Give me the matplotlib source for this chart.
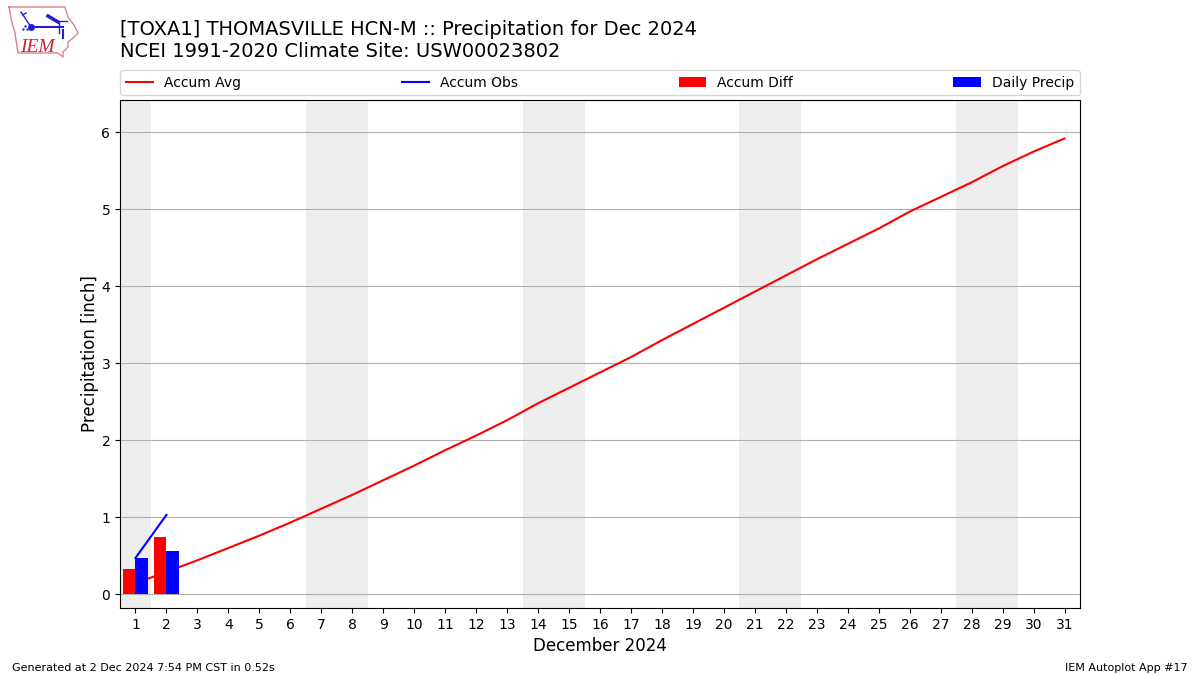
import matplotlib
matplotlib.use("Agg")
import matplotlib.pyplot as plt
import numpy as np

W, H = 1200, 675

days = list(range(1, 32))
accum_avg = [0.14, 0.29, 0.44, 0.60, 0.76, 0.93, 1.11, 1.29, 1.48, 1.67, 1.87,
             2.06, 2.26, 2.48, 2.68, 2.88, 3.08, 3.30, 3.51, 3.72, 3.93, 4.14,
             4.35, 4.55, 4.75, 4.97, 5.16, 5.35, 5.56, 5.75, 5.92]
obs_days = [1, 2]
accum_obs = [0.47, 1.03]
accum_diff = [0.33, 0.74]
daily_precip = [0.47, 0.56]
weekend_spans = [(0.5, 1.5), (6.5, 8.5), (13.5, 15.5), (20.5, 22.5), (27.5, 29.5)]
yticks = [0, 1, 2, 3, 4, 5, 6]

# logo outline in figure pixels
logo_x = [9, 65, 68, 74, 78, 72, 68, 68, 63, 63, 58, 18, 15, 12, 9]
logo_y = [7, 7, 17, 25, 33, 39, 42, 47, 52, 57, 53, 53, 33, 23, 7]

fig = plt.figure(figsize=(W / 100, H / 100), dpi=100)
ax = fig.add_axes([120 / W, 1 - 608 / H, 960 / W, 508 / H])

for x0, x1 in weekend_spans:
    ax.axvspan(x0, x1, color="#eeeeee", lw=0, zorder=0.2)

ax.plot(days, accum_avg, color="r", lw=1.5, label="Accum Avg", zorder=3)
ax.plot(obs_days, accum_obs, color="b", lw=1.5, label="Accum Obs", zorder=3)
ax.bar(np.array(obs_days) - 0.2, accum_diff, width=0.4, color="r", label="Accum Diff", zorder=4)
ax.bar(np.array(obs_days) + 0.2, daily_precip, width=0.4, color="b", label="Daily Precip", zorder=4)

ax.set_xlim(0.5, 31.5)
ax.set_ylim(-0.18, 6.42)
ax.set_xticks(days)
ax.set_yticks(yticks)
ax.grid(axis="y", color="#b0b0b0", lw=0.8, zorder=0.5)
ax.set_axisbelow(True)
ax.tick_params(labelsize=10)
ax.set_xlabel("December 2024", fontsize=12)
ax.set_ylabel("Precipitation [inch]", fontsize=12, labelpad=2)
ax.legend(loc="lower left", bbox_to_anchor=(0, 1.009, 1, 0.05), ncol=4, mode="expand",
          borderaxespad=0, fontsize=10)

fig.text(120 / W, 1 - 61 / H, "[TOXA1] THOMASVILLE HCN-M :: Precipitation for Dec 2024\n"
         "NCEI 1991-2020 Climate Site: USW00023802", fontsize=14, ha="left", va="bottom",
         linespacing=1.2)
fig.text(12 / W, 1 - 671 / H, "Generated at 2 Dec 2024 7:54 PM CST in 0.52s", fontsize=8)
fig.text(1188 / W, 1 - 671 / H, "IEM Autoplot App #17", fontsize=8, ha="right")

# IEM logo
la = fig.add_axes([0, 1 - 60 / H, 85 / W, 60 / H])
la.set_xlim(0, 85)
la.set_ylim(60, 0)
la.axis("off")
la.plot(logo_x, logo_y, color="#e08088", lw=1)
blue = "#2020d0"
la.plot([31, 63], [27, 27], color=blue, lw=1.5)
la.plot([48, 58], [16, 22], color=blue, lw=2.5)
la.plot([58, 67], [21, 21], color=blue, lw=1)
la.plot([59, 59], [22, 33], color=blue, lw=1)
la.plot([63, 63], [30, 38], color=blue, lw=1.5)
la.plot([31, 23, 21], [27, 15, 12], color=blue, lw=1)
la.plot([23, 26], [15, 13], color=blue, lw=1)
la.plot([31], [27], "o", color=blue, ms=4)
la.plot([23, 25, 27], [29, 26, 29], ".", color=blue, ms=1.5)
la.text(20, 52, "IEM", color="#d02030", fontsize=14, family="Liberation Serif", style="italic")

fig.savefig("out.png", dpi=100)
